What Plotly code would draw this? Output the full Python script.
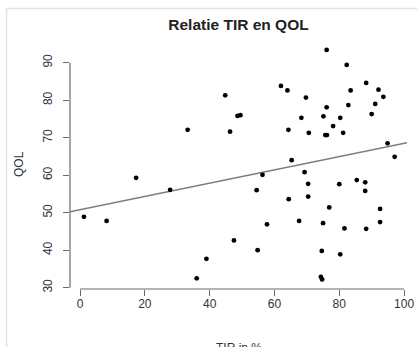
import numpy as np
import plotly.graph_objects as go

TITLE = "Relatie TIR en QOL"
X_TITLE = "TIR in %"
Y_TITLE = "QOL"

TIR = [1.2, 8.2, 17.3, 27.8, 33.2, 36.0, 39.0, 44.8, 46.3, 47.5,
       48.6, 49.5, 54.5, 54.8, 56.3, 57.7, 62.0, 64.0, 64.3, 64.4,
       65.3, 67.6, 68.3, 69.3, 69.7, 70.4, 70.4, 70.6, 74.3, 74.7,
       74.6, 75.0, 75.1, 75.7, 76.2, 76.1, 76.1, 76.9, 78.1, 80.0,
       80.3, 80.3, 81.2, 81.6, 82.3, 82.8, 83.5, 85.4, 88.0, 88.0,
       88.3, 88.3, 90.0, 91.1, 92.1, 92.6, 92.6, 93.6, 94.9, 97.1]
QOL = [48.9, 47.8, 59.3, 56.1, 72.1, 32.5, 37.7, 81.3, 71.6, 42.6,
       75.8, 76.0, 56.0, 40.0, 60.1, 46.9, 83.8, 82.6, 72.1, 53.6,
       64.0, 47.8, 75.3, 60.8, 80.7, 57.7, 54.3, 71.3, 32.9, 32.2,
       39.8, 47.2, 75.7, 70.7, 70.7, 78.1, 93.4, 51.4, 73.1, 57.6,
       75.3, 38.9, 71.3, 45.8, 89.4, 78.7, 82.6, 58.7, 58.1, 55.8,
       45.7, 84.6, 76.3, 79.0, 82.8, 51.0, 47.5, 80.9, 68.5, 64.9]

FIT_INTERCEPT = 50.8
FIT_SLOPE = 0.177

X_TICKS = [0, 20, 40, 60, 80, 100]
Y_TICKS = [30, 40, 50, 60, 70, 80, 90]
X_RANGE = [-3.1, 100.9]
Y_RANGE = [29.65, 96.05]

FONT = "Liberation Sans, Arial, sans-serif"
AXIS_COLOR = "#6a6a6a"
TEXT_COLOR = "#333340"

fig = go.Figure()

fit_x = np.array(X_RANGE)
fig.add_trace(go.Scatter(
    x=fit_x, y=FIT_INTERCEPT + FIT_SLOPE * fit_x,
    mode="lines", line=dict(color="#7d7d7d", width=1.6),
    hoverinfo="skip", showlegend=False,
))
fig.add_trace(go.Scatter(
    x=TIR, y=QOL, mode="markers",
    marker=dict(color="black", size=4.8, line=dict(width=0)),
    showlegend=False,
))

fig.update_layout(
    width=417, height=347,
    margin=dict(l=70, r=10, t=40, b=58, autoexpand=False),
    paper_bgcolor="white", plot_bgcolor="white",
    font=dict(family=FONT, color=TEXT_COLOR, size=12),
    title=dict(text="<b>" + TITLE + "</b>", x=0.5, xref="paper", xanchor="center",
               y=1 - 25 / 347, yref="container", yanchor="middle",
               font=dict(size=15.5, color="#222222", family=FONT)),
    xaxis=dict(range=X_RANGE, tickvals=X_TICKS, ticktext=[str(v) for v in X_TICKS],
               showgrid=False, zeroline=False, showline=False, automargin=False,
               ticks="outside", ticklen=6, tickwidth=1.2, tickcolor=AXIS_COLOR,
               ticklabelstandoff=-2,
               tickfont=dict(size=12, color=TEXT_COLOR)),
    yaxis=dict(range=Y_RANGE, tickvals=Y_TICKS, ticktext=[str(v) for v in Y_TICKS],
               showgrid=False, zeroline=False, showline=False, automargin=False,
               ticks="outside", ticklen=6, tickwidth=1.2, tickcolor=AXIS_COLOR,
               ticklabelstandoff=6,
               tickangle=-90, tickfont=dict(size=12, color=TEXT_COLOR)),
    shapes=[
        dict(type="line", xref="x", yref="paper", x0=X_TICKS[0], x1=X_TICKS[-1],
             y0=0, y1=0, line=dict(color=AXIS_COLOR, width=1.2)),
        dict(type="line", xref="paper", yref="y", x0=0, x1=0,
             y0=Y_TICKS[0], y1=Y_TICKS[-1], line=dict(color=AXIS_COLOR, width=1.2)),
        # light frame of the original screenshot
        dict(type="rect", xref="paper", yref="paper",
             x0=(6.5 - 70) / 337, x1=1.5, y0=-1.0, y1=1 + (40 - 8.5) / 249,
             line=dict(color="#e2e2e2", width=1.5), layer="below"),
    ],
    annotations=[
        dict(text=Y_TITLE, textangle=-90, xref="paper", yref="paper",
             x=(18.5 - 70) / 337, y=0.5, xanchor="center", yanchor="middle",
             showarrow=False, font=dict(size=12, color=TEXT_COLOR)),
        dict(text=X_TITLE, xref="paper", yref="paper",
             x=0.5, y=(289 - 347.5) / 249, xanchor="center", yanchor="middle",
             showarrow=False, font=dict(size=12, color=TEXT_COLOR)),
    ],
)

fig.write_html("out.html", config={"displayModeBar": False},
               post_script="document.body.style.margin='0';")
